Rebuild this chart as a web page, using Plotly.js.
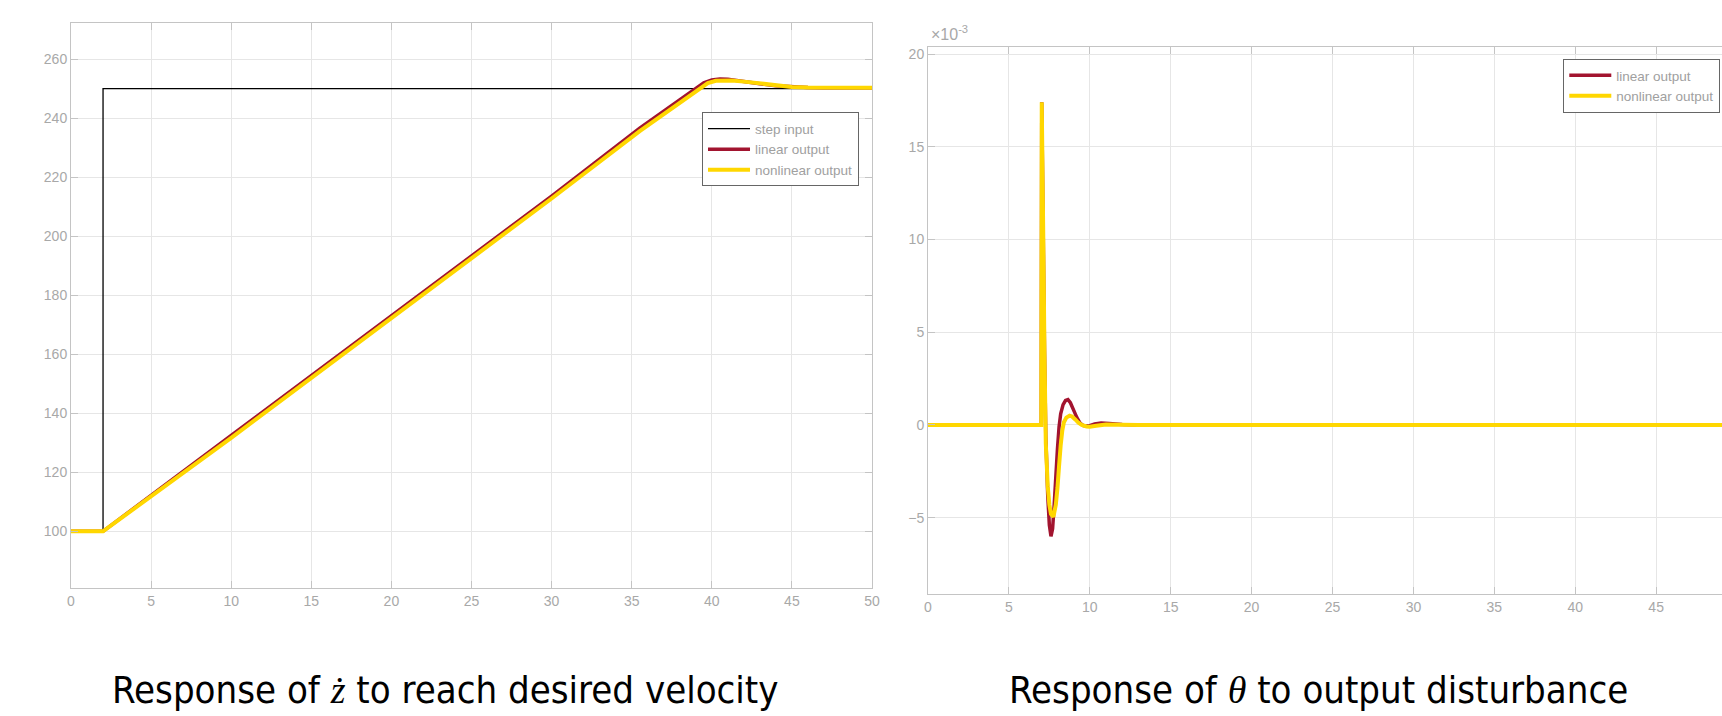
<!DOCTYPE html>
<html>
<head>
<meta charset="utf-8">
<script src="https://cdn.plot.ly/plotly-3.0.1.min.js"></script>
<style>html,body{margin:0;padding:0;background:#fff;}#chart{width:1722px;height:716px;}</style>
</head>
<body>
<div id="chart"></div>
<script>
// ---------- Left chart: velocity response ----------
const stepT = [0, 2, 2, 50];
const stepV = [100, 100, 250, 250];

const linT = [0, 2, 10, 20, 30, 35.5, 39.0, 39.5, 40.0, 40.5, 41.0, 41.5, 42, 43, 44, 45, 46, 47, 48, 50];
const linV = [100, 100, 132.5, 173.0, 213.6, 236.6, 250.2, 252.0, 253.0, 253.3, 253.2, 252.9, 252.5, 251.7, 251.0, 250.6, 250.4, 250.3, 250.3, 250.3];

const nlT = [0, 2, 10, 20, 30, 35.5, 39.25, 39.75, 40.25, 40.75, 41.25, 42, 43, 44, 45, 46, 47, 48, 50];
const nlV = [100, 100, 131.7, 172.2, 212.8, 235.6, 250.2, 251.9, 252.7, 252.9, 252.8, 252.4, 251.7, 251.0, 250.6, 250.4, 250.3, 250.3, 250.3];

// ---------- Right chart: theta response (values in units of 1e-3) ----------
const thLinT = [0, 7.0, 7.03, 7.12, 7.2, 7.28, 7.4, 7.5, 7.6, 7.7, 7.8, 7.9, 8.0, 8.1, 8.2, 8.35, 8.5, 8.65, 8.8, 9.0, 9.2, 9.4, 9.6, 9.9, 10.3, 10.7, 11.2, 12, 13, 50];
const thLinV = [0, 0, 17.4, 10.5, 4.0, -0.6, -3.8, -5.4, -6.0, -5.6, -4.3, -2.8, -1.3, -0.1, 0.6, 1.1, 1.32, 1.37, 1.2, 0.8, 0.4, 0.1, -0.03, -0.06, 0.05, 0.11, 0.08, 0.03, 0, 0];

const thNlT = [0, 7.0, 7.03, 7.12, 7.2, 7.28, 7.4, 7.5, 7.6, 7.75, 7.9, 8.0, 8.1, 8.2, 8.3, 8.4, 8.55, 8.75, 8.9, 9.1, 9.3, 9.5, 9.8, 10.0, 10.4, 11, 12, 13, 50];
const thNlV = [0, 0, 17.4, 10.5, 3.8, -1.0, -3.3, -4.3, -4.8, -4.95, -4.3, -3.4, -2.2, -1.1, -0.3, 0.15, 0.4, 0.5, 0.46, 0.3, 0.12, 0.0, -0.08, -0.09, -0.04, 0.03, 0.01, 0, 0];

const xTicks = [0, 5, 10, 15, 20, 25, 30, 35, 40, 45, 50];
const yTicksLeft = [100, 120, 140, 160, 180, 200, 220, 240, 260];
const yTicksRight = [-5, 0, 5, 10, 15, 20];

const captionLeft = 'Response of <i><span style="font-family:Liberation Serif">ż</span></i> to reach desired velocity';
const captionRight = 'Response of <i><span style="font-family:Liberation Serif">θ</span></i> to output disturbance';
const exponentLabel = '×10<sup>-3</sup>';

const RED = '#A2142F';
const YEL = '#FFD700';
const AX = '#c4c4c4';
const GRID = '#e6e6e6';
const TICKFONT = {family: 'Liberation Sans, Arial, sans-serif', size: 14, color: '#a8a8a8'};
const LEGFONT = {family: 'Liberation Sans, Arial, sans-serif', size: 13.5, color: '#a0a0a0'};

const traces = [
  {x: stepT, y: stepV, type: 'scatter', mode: 'lines', name: 'step input',
   line: {color: '#000000', width: 1.3}, xaxis: 'x', yaxis: 'y', legend: 'legend'},
  {x: linT, y: linV, type: 'scatter', mode: 'lines', name: 'linear output',
   line: {color: RED, width: 3.5}, xaxis: 'x', yaxis: 'y', legend: 'legend'},
  {x: nlT, y: nlV, type: 'scatter', mode: 'lines', name: 'nonlinear output',
   line: {color: YEL, width: 4}, xaxis: 'x', yaxis: 'y', legend: 'legend'},
  {x: thLinT, y: thLinV, type: 'scatter', mode: 'lines', name: 'linear output',
   line: {color: RED, width: 3.5, simplify: false}, xaxis: 'x2', yaxis: 'y2', legend: 'legend2'},
  {x: thNlT, y: thNlV, type: 'scatter', mode: 'lines', name: 'nonlinear output',
   line: {color: YEL, width: 4, simplify: false}, xaxis: 'x2', yaxis: 'y2', legend: 'legend2'}
];

function axisBase() {
  return {
    showgrid: true, gridcolor: GRID, gridwidth: 1,
    showline: true, linecolor: AX, linewidth: 1,
    ticks: 'inside', ticklen: 7, tickcolor: AX, tickwidth: 1,
    zeroline: false, tickfont: TICKFONT, fixedrange: true
  };
}

const layout = {
  width: 1722, height: 716,
  margin: {l: 60, r: 0, t: 20, b: 100, pad: 0},
  paper_bgcolor: '#ffffff', plot_bgcolor: '#ffffff',
  showlegend: true,
  xaxis: Object.assign(axisBase(), {domain: [0.006619, 0.48857], range: [0, 50], tickvals: xTicks, anchor: 'y', mirror: 'ticks'}),
  yaxis: Object.assign(axisBase(), {domain: [0.04698, 0.99413], range: [80.8, 272.1], tickvals: yTicksLeft, anchor: 'x', mirror: 'ticks'}),
  xaxis2: Object.assign(axisBase(), {domain: [0.52226, 1], range: [0, 49.07], tickvals: xTicks, anchor: 'y2', mirror: 'ticks'}),
  yaxis2: Object.assign(axisBase(), {domain: [0.03641, 0.95520], range: [-9.13, 20.4], tickvals: yTicksRight, anchor: 'x2', mirror: false}),
  legend: {x: 0.48075, xanchor: 'right', y: 0.84513, yanchor: 'top',
           bgcolor: '#ffffff', bordercolor: '#666666', borderwidth: 1, font: LEGFONT,
           tracegroupgap: 0, itemwidth: 42},
  legend2: {x: 0.90451, xanchor: 'left', y: 0.93456, yanchor: 'top',
            bgcolor: '#ffffff', bordercolor: '#666666', borderwidth: 1, font: LEGFONT,
            tracegroupgap: 0, itemwidth: 42},
  annotations: [
    {text: captionLeft, xref: 'paper', yref: 'paper', x: 0.23165, y: -0.12416,
     xanchor: 'center', yanchor: 'middle', showarrow: false,
     font: {family: 'Liberation Sans Narrow, DejaVu Sans Condensed, Noto Sans, sans-serif', size: 38, color: '#000000'}},
    {text: captionRight, xref: 'paper', yref: 'paper', x: 0.75692, y: -0.12416,
     xanchor: 'center', yanchor: 'middle', showarrow: false,
     font: {family: 'Liberation Sans Narrow, DejaVu Sans Condensed, Noto Sans, sans-serif', size: 38, color: '#000000'}},
    {text: exponentLabel, xref: 'paper', yref: 'paper', x: 0.52286, y: 0.95805,
     xanchor: 'left', yanchor: 'bottom', showarrow: false,
     font: {family: 'Liberation Sans, Arial, sans-serif', size: 16, color: '#a8a8a8'}}
  ]
};

Plotly.newPlot('chart', traces, layout, {displayModeBar: false, staticPlot: true});
</script>
</body>
</html>
